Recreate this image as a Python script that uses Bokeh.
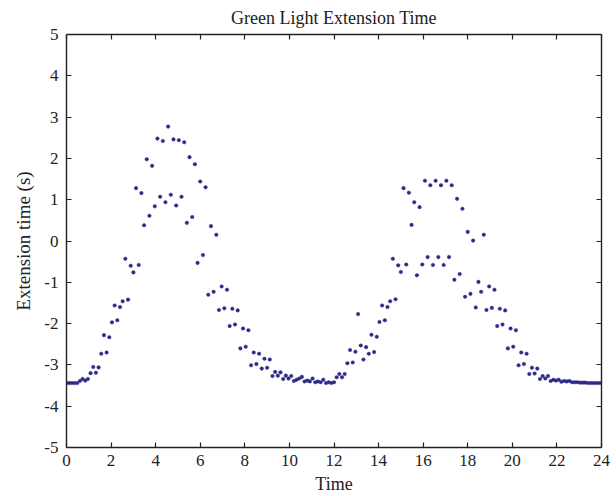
from bokeh.plotting import figure
from bokeh.models import LinearAxis, FixedTicker, Range1d, Title
from bokeh.embed import file_html
from bokeh.resources import INLINE

# ---- data ----
times_h = [
    0.00, 0.12, 0.24, 0.36, 0.48, 0.60, 0.72, 0.84, 0.96, 1.08,
    1.20, 1.32, 1.44, 1.56, 1.68, 1.80, 1.92, 2.04, 2.16, 2.28,
    2.40, 2.52, 2.64, 2.76, 2.88, 3.00, 3.12, 3.24, 3.36, 3.48,
    3.60, 3.72, 3.84, 3.96, 4.08, 4.20, 4.32, 4.44, 4.56, 4.68,
    4.80, 4.92, 5.04, 5.16, 5.28, 5.40, 5.52, 5.64, 5.76, 5.88,
    6.00, 6.12, 6.24, 6.36, 6.48, 6.60, 6.72, 6.84, 6.96, 7.08,
    7.20, 7.32, 7.44, 7.56, 7.68, 7.80, 7.92, 8.04, 8.16, 8.28,
    8.40, 8.52, 8.64, 8.76, 8.88, 9.00, 9.12, 9.24, 9.36, 9.48,
    9.60, 9.72, 9.84, 9.96, 10.08, 10.20, 10.32, 10.44, 10.56, 10.68,
    10.80, 10.92, 11.04, 11.16, 11.28, 11.40, 11.52, 11.64, 11.76, 11.88,
    12.00, 12.12, 12.24, 12.36, 12.48, 12.60, 12.72, 12.84, 12.96, 13.08,
    13.20, 13.32, 13.44, 13.56, 13.68, 13.80, 13.92, 14.04, 14.16, 14.28,
    14.40, 14.52, 14.64, 14.76, 14.88, 15.00, 15.12, 15.24, 15.36, 15.48,
    15.60, 15.72, 15.84, 15.96, 16.08, 16.20, 16.32, 16.44, 16.56, 16.68,
    16.80, 16.92, 17.04, 17.16, 17.28, 17.40, 17.52, 17.64, 17.76, 17.88,
    18.00, 18.12, 18.24, 18.36, 18.48, 18.60, 18.72, 18.84, 18.96, 19.08,
    19.20, 19.32, 19.44, 19.56, 19.68, 19.80, 19.92, 20.04, 20.16, 20.28,
    20.40, 20.52, 20.64, 20.76, 20.88, 21.00, 21.12, 21.24, 21.36, 21.48,
    21.60, 21.72, 21.84, 21.96, 22.08, 22.20, 22.32, 22.44, 22.56, 22.68,
    22.80, 22.92, 23.04, 23.16, 23.28, 23.40, 23.52, 23.64, 23.76, 23.88,
    24.00,
]

extension_s = [
    -3.44, -3.44, -3.44, -3.44, -3.44, -3.39, -3.34, -3.38, -3.34, -3.20,
    -3.05, -3.19, -3.06, -2.73, -2.28, -2.70, -2.33, -1.97, -1.56, -1.92,
    -1.60, -1.46, -0.43, -1.42, -0.60, -0.76, 1.28, -0.58, 1.16, 0.38,
    1.98, 0.61, 1.82, 0.84, 2.48, 1.07, 2.42, 0.94, 2.77, 1.12,
    2.46, 0.86, 2.44, 1.07, 2.39, 0.44, 2.03, 0.58, 1.86, -0.53,
    1.44, -0.34, 1.30, -1.30, 0.36, -1.23, 0.15, -1.67, -1.10, -1.63,
    -1.18, -2.06, -1.64, -2.02, -1.68, -2.60, -2.12, -2.56, -2.16, -3.01,
    -2.70, -2.98, -2.73, -3.09, -2.85, -3.07, -2.87, -3.27, -3.17, -3.26,
    -3.18, -3.34, -3.26, -3.33, -3.27, -3.39, -3.36, -3.33, -3.29, -3.40,
    -3.38, -3.40, -3.33, -3.42, -3.40, -3.42, -3.36, -3.44, -3.42, -3.44,
    -3.42, -3.30, -3.22, -3.30, -3.22, -2.96, -2.64, -2.94, -2.68, -1.77,
    -2.53, -2.87, -2.57, -2.73, -2.27, -2.69, -2.32, -1.96, -1.56, -1.92,
    -1.60, -1.46, -0.43, -1.41, -0.59, -0.75, 1.28, -0.57, 1.17, 0.39,
    0.94, -0.83, 0.82, -0.57, 1.46, -0.39, 1.35, -0.58, 1.46, -0.39,
    1.35, -0.58, 1.46, -0.39, 1.35, -0.94, 1.02, -0.80, 0.78, -1.35,
    0.22, -1.28, 0.01, -1.61, -0.99, -1.23, 0.15, -1.67, -1.10, -1.62,
    -1.18, -2.06, -1.64, -2.02, -1.68, -2.60, -2.12, -2.56, -2.16, -3.01,
    -2.70, -2.98, -2.73, -3.22, -3.07, -3.21, -3.09, -3.34, -3.27, -3.33,
    -3.27, -3.39, -3.36, -3.38, -3.36, -3.41, -3.39, -3.40, -3.39, -3.42,
    -3.42, -3.42, -3.43, -3.43, -3.43, -3.44, -3.44, -3.44, -3.44, -3.44,
    -3.44,
]

x_ticks = [0, 2, 4, 6, 8, 10, 12, 14, 16, 18, 20, 22, 24]
x_tick_labels = ["0", "2", "4", "6", "8", "10", "12", "14", "16", "18", "20", "22", "24"]
y_ticks = [-5, -4, -3, -2, -1, 0, 1, 2, 3, 4, 5]
y_tick_labels = ["-5", "-4", "-3", "-2", "-1", "0", "1", "2", "3", "4", "5"]

FONT = "Liberation Serif"
INK = "#222222"
DOT = "#2E2A85"

p = figure(
    width=616, height=496,
    output_backend="svg", toolbar_location=None,
    x_range=Range1d(0, 24), y_range=Range1d(-5, 5),
    min_border_left=66, min_border_right=15,
    min_border_top=34, min_border_bottom=48,
    x_axis_label="Time", y_axis_label="Extension time (s)",
)
p.title = Title(text="Green Light Extension Time", align="center",
                vertical_align="top",
                text_font=FONT, text_font_size="18px",
                text_font_style="normal", text_color=INK, standoff=9)
p.grid.visible = False
p.outline_line_color = None
p.background_fill_color = "white"
p.border_fill_color = "white"

p.scatter(times_h, extension_s, size=3.6, marker="circle",
          fill_color=DOT, line_color=DOT, line_width=0.4)

def style_axis(ax, ticks, labels, show_labels=True):
    ax.ticker = FixedTicker(ticks=ticks)
    ax.axis_line_color = INK
    ax.axis_line_width = 1.4
    ax.major_tick_line_color = INK
    ax.major_tick_line_width = 1.2
    ax.major_tick_in = 5
    ax.major_tick_out = 0
    ax.minor_tick_line_color = None
    ax.major_label_text_font = FONT
    ax.major_label_text_color = INK
    ax.axis_label_text_font = FONT
    ax.axis_label_text_font_style = "normal"
    ax.axis_label_text_color = INK
    ax.major_label_text_font_size = "17px"
    ax.axis_label_text_font_size = "18px"
    if show_labels:
        ax.major_label_overrides = {t: l for t, l in zip(ticks, labels)}
    else:
        ax.major_label_overrides = {t: "" for t in ticks}
        ax.major_label_standoff = 0

xb = p.xaxis[0]
style_axis(xb, x_ticks, x_tick_labels)
xb.major_label_standoff = 7
xb.axis_label_standoff = 5

yl = p.yaxis[0]
style_axis(yl, y_ticks, y_tick_labels)
yl.major_label_standoff = 8
yl.axis_label_standoff = 7
yl.axis_label_text_font_size = "19px"

xt = LinearAxis()
style_axis(xt, x_ticks, x_tick_labels, show_labels=False)
p.add_layout(xt, "above")
yr = LinearAxis()
style_axis(yr, y_ticks, y_tick_labels, show_labels=False)
p.add_layout(yr, "right")

open("out.html", "w").write(file_html(p, INLINE))
